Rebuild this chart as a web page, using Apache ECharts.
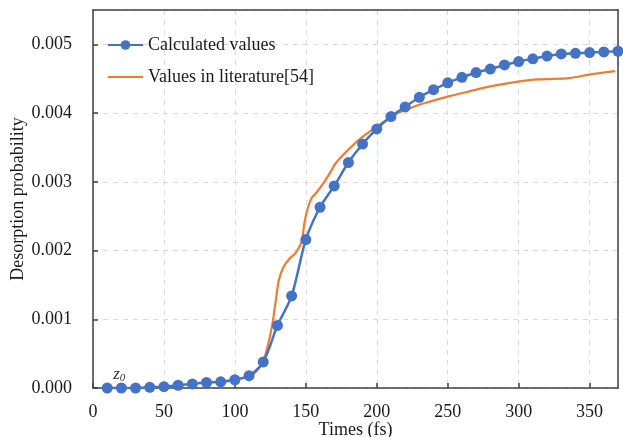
<!DOCTYPE html>
<html>
<head>
<meta charset="utf-8">
<script src="https://cdn.jsdelivr.net/npm/echarts@6/dist/echarts.min.js"></script>
<style>
  html, body { margin: 0; padding: 0; background: #fff; }
  #chart { width: 623px; height: 437px; }
</style>
</head>
<body>
<div id="chart"></div>
<script>
// 计算值 (每 10 fs 一个点)
const calcTimes = [10, 20, 30, 40, 50, 60, 70, 80, 90, 100, 110, 120, 130, 140, 150, 160, 170, 180, 190,
  200, 210, 220, 230, 240, 250, 260, 270, 280, 290, 300, 310, 320, 330, 340, 350, 360, 370];
const calcValues = [0, 0, 0, 0.00001, 0.00002, 0.00004, 0.00006, 0.00008, 0.00009, 0.00012, 0.00018,
  0.00038, 0.00091, 0.00134, 0.00216, 0.00263, 0.00294, 0.00328, 0.00355, 0.00377, 0.00395, 0.00409,
  0.00423, 0.00434, 0.00444, 0.00452, 0.00459, 0.00464, 0.0047, 0.00475, 0.00479, 0.00483, 0.00486,
  0.00487, 0.00488, 0.00489, 0.0049];

// 文献值
const litTimes = [110, 115, 119.5, 123, 126.5, 129, 131, 134, 138, 143, 147, 149, 151, 154, 157, 163,
  167, 171, 180, 189, 199, 207, 215, 227, 238, 252, 262, 276, 294, 313, 336, 350, 368];
const litValues = [0.00015, 0.00024, 0.00037, 0.0006, 0.00094, 0.0013, 0.00157, 0.00175, 0.00187,
  0.00197, 0.00213, 0.0024, 0.00259, 0.00276, 0.00283, 0.003, 0.00313, 0.00327, 0.00347, 0.00364,
  0.00379, 0.0039, 0.004, 0.0041, 0.00417, 0.00425, 0.0043, 0.00437, 0.00444, 0.00449, 0.00451,
  0.00456, 0.00461];

const seriesNames = ['Calculated values', 'Values in literature[54]'];

const font = 'Liberation Serif, Times New Roman, serif';
const axisColor = '#404040';
const gridColor = '#d9d9d9';

const calcData = calcTimes.map((t, i) => [t, calcValues[i]]);
const litData = litTimes.map((t, i) => [t, litValues[i]]);

// 上/右边框用只有轴线的副轴画
const frameAxis = {
  axisLine: { show: true, onZero: false, lineStyle: { color: axisColor, width: 1.5 } },
  axisTick: { show: false },
  axisLabel: { show: false },
  splitLine: { show: false }
};

const myChart = echarts.init(document.getElementById('chart'));
myChart.setOption({
  backgroundColor: '#fff',
  textStyle: { fontFamily: font, color: '#1a1a1a' },
  grid: { left: 93, right: 5, top: 10, bottom: 49, outerBoundsMode: 'none', containLabel: false },
  legend: {
    orient: 'vertical',
    left: 102,
    top: 31,
    itemWidth: 35,
    itemHeight: 12,
    itemGap: 14,
    textStyle: { fontFamily: font, fontSize: 18, color: '#1a1a1a' },
    data: [
      { name: seriesNames[0] },
      { name: seriesNames[1], itemStyle: { opacity: 0 } }
    ]
  },
  xAxis: [
    {
      type: 'value',
      min: 0, max: 370, interval: 50,
      name: 'Times (fs)',
      nameLocation: 'middle',
      nameGap: 33,
      nameMoveOverlap: false,
      nameTextStyle: { fontFamily: font, fontSize: 18, color: '#1a1a1a' },
      axisLine: { onZero: false, lineStyle: { color: axisColor, width: 1.5 } },
      axisTick: { inside: true, length: 5, lineStyle: { color: axisColor, width: 1.5 } },
      axisLabel: { fontFamily: font, fontSize: 18, color: '#1a1a1a', margin: 15, showMaxLabel: false },
      splitLine: { show: true, lineStyle: { color: gridColor, type: [5, 5], width: 1 } }
    },
    Object.assign({ type: 'value', position: 'top', min: 0, max: 370 }, frameAxis)
  ],
  yAxis: [
    {
      type: 'value',
      min: 0, max: 0.0055, interval: 0.001,
      name: 'Desorption probability',
      nameLocation: 'middle',
      nameGap: 66,
      nameMoveOverlap: false,
      nameTextStyle: { fontFamily: font, fontSize: 18, color: '#1a1a1a' },
      axisLine: { show: true, onZero: false, lineStyle: { color: axisColor, width: 1.5 } },
      axisTick: { show: true, inside: true, length: 5, lineStyle: { color: axisColor, width: 1.5 } },
      axisLabel: {
        fontFamily: font, fontSize: 18, color: '#1a1a1a', margin: 21, showMaxLabel: false,
        formatter: v => v.toFixed(3)
      },
      splitLine: { show: true, lineStyle: { color: gridColor, type: [5, 5], width: 1 } }
    },
    Object.assign({ type: 'value', position: 'right', min: 0, max: 0.0055 }, frameAxis)
  ],
  series: [
    {
      name: seriesNames[0],
      type: 'line',
      data: calcData.map((d, i) => i === 0 ? {
        value: d,
        label: {
          show: true,
          position: 'top',
          offset: [12, 6],
          formatter: '{z|z}{s|0}',
          rich: {
            z: { fontFamily: font, fontStyle: 'italic', fontSize: 17, color: '#333' },
            s: { fontFamily: font, fontStyle: 'italic', fontSize: 11, color: '#333', verticalAlign: 'bottom', padding: [6, 0, 0, 0] }
          }
        }
      } : d),
      smooth: 0.3,
      symbol: 'circle',
      symbolSize: 11,
      z: 3,
      itemStyle: { color: '#4472C4' },
      lineStyle: { color: '#4472C4', width: 2.5 }
    },
    {
      name: seriesNames[1],
      type: 'line',
      data: litData,
      smooth: 0.3,
      showSymbol: false,
      symbol: 'none',
      z: 2,
      itemStyle: { color: '#ED7D31' },
      lineStyle: { color: '#ED7D31', width: 2.2 }
    }
  ]
});
window.addEventListener('resize', () => myChart.resize());
</script>
</body>
</html>
